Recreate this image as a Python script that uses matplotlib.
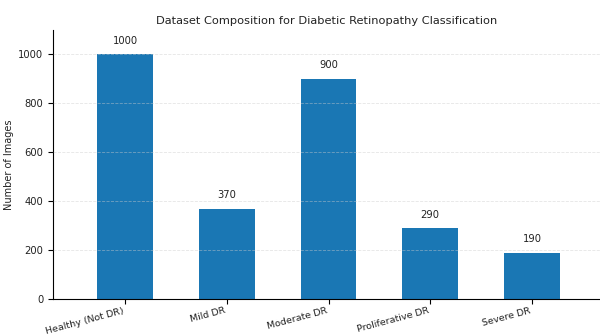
import matplotlib
matplotlib.use("Agg")
import matplotlib.pyplot as plt

categories = ["Healthy (Not DR)", "Mild DR", "Moderate DR", "Proliferative DR", "Severe DR"]
counts = [1000, 370, 900, 290, 190]

fig = plt.figure(figsize=(6, 3.34), dpi=100)
ax = fig.add_axes([53/600, 1-299/334, 547/600, 269/334])
x = list(range(len(categories)))
bars = ax.bar(x, counts, width=0.55, color="#1a77b4", zorder=2)
for xi, v in zip(x, counts):
    ax.text(xi, v + 35, str(v), ha="center", va="bottom", fontsize=7.2, color="#222222")
ax.set_xlim(-0.71, 4.67)
ax.set_ylim(0, 1100)
ax.set_yticks([0, 200, 400, 600, 800, 1000])
ax.set_xticks(x)
ax.set_xticklabels(categories, rotation=15, ha="right", fontsize=6.8, color="#222222")
ax.tick_params(axis="y", labelsize=7.2, labelcolor="#222222")
ax.tick_params(axis="x", pad=1.5)
ax.set_ylabel("Number of Images", fontsize=7, color="#222222")
ax.yaxis.set_label_coords(-0.071, 0.5)
ax.set_title("Dataset Composition for Diabetic Retinopathy Classification", fontsize=8.2, pad=4.5, color="#222222")
ax.grid(axis="y", linestyle="--", color="#cccccc", linewidth=0.6, alpha=0.5, zorder=3)
ax.set_axisbelow(False)
ax.spines["top"].set_visible(False)
ax.spines["right"].set_visible(False)
fig.savefig("out.png", dpi=100)
